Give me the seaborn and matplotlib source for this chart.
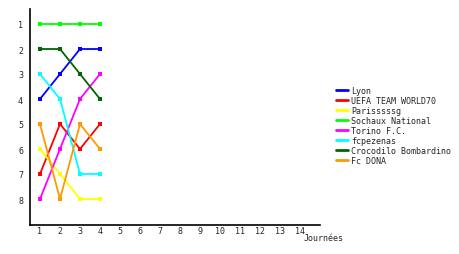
import matplotlib
matplotlib.use("Agg")
import matplotlib.pyplot as plt
import seaborn as sns
import pandas as pd
from matplotlib.lines import Line2D

teams = ["Lyon", "UEFA TEAM WORLD70", "Parisssssg", "Sochaux National",
         "Torino F.C.", "fcpezenas", "Crocodilo Bombardino", "Fc DONA"]
colors = ["#0000ff", "#ff0000", "#ffff00", "#00ff00",
          "#ff00ff", "#00ffff", "#006600", "#ff9900"]
journees = [1, 2, 3, 4]
lyon = [4, 3, 2, 2]
uefa = [7, 5, 6, 5]
paris = [6, 7, 8, 8]
sochaux = [1, 1, 1, 1]
torino = [8, 6, 4, 3]
pezenas = [3, 4, 7, 7]
crocodilo = [2, 2, 3, 4]
dona = [5, 8, 5, 6]
series = [lyon, uefa, paris, sochaux, torino, pezenas, crocodilo, dona]
x_ticks = list(range(1, 15))
y_ticks = list(range(1, 9))

rows = []
for t, s in zip(teams, series):
    for j, v in zip(journees, s):
        rows.append({"team": t, "journee": j, "rank": v})
df = pd.DataFrame(rows)

sns.set_style("white")
plt.rcParams["font.family"] = ["DejaVu Sans Mono"]

fig = plt.figure(figsize=(4.6, 2.55), dpi=100)
ax = fig.add_axes([30/460, 1-226/255, 290/460, 216/255])
palette = dict(zip(teams, colors))
sns.lineplot(data=df, x="journee", y="rank", hue="team", palette=palette,
             hue_order=teams, marker="s", markersize=3, markeredgewidth=0,
             linewidth=1.3, ax=ax, legend=False)

ax.set_xlim(0.5, 15)
ax.set_ylim(9.04, 0.4)
ax.set_xticks(x_ticks)
ax.set_xticklabels([str(v) for v in x_ticks], fontsize=6)
ax.set_yticks(y_ticks)
ax.set_yticklabels([str(v) for v in y_ticks], fontsize=6)
ax.tick_params(axis="x", length=0, pad=1)
ax.tick_params(axis="y", length=0, pad=5)
ax.set_xlabel("")
ax.set_ylabel("")
for s in ["top", "right"]:
    ax.spines[s].set_visible(False)
for s in ["left", "bottom"]:
    ax.spines[s].set_color("black")
    ax.spines[s].set_linewidth(1.2)

fig.text(304/460, 1-239/255, "Journées", fontsize=6, va="center", ha="left")

handles = [Line2D([0], [0], color=c, lw=2) for c in colors]
fig.legend(handles, teams, loc="upper left", bbox_to_anchor=(336/460, 1-87/255),
           frameon=False, fontsize=6, handlelength=1.4, handletextpad=0.4,
           labelspacing=0.12, borderaxespad=0, borderpad=0)

fig.savefig("out.png", dpi=100)
